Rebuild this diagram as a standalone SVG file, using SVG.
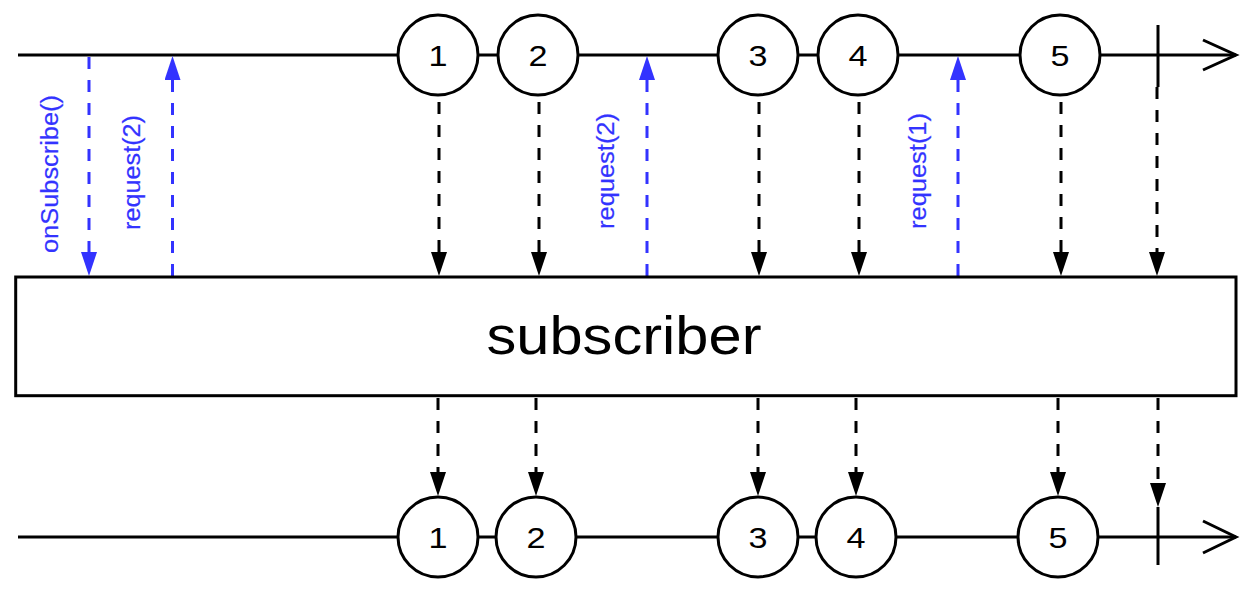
<svg xmlns="http://www.w3.org/2000/svg" width="1251" height="591" viewBox="0 0 1251 591">
  <style>
    .line { stroke: #000; stroke-width: 3; fill: none; }
    .chev { stroke: #000; stroke-width: 3; fill: none; stroke-linejoin: miter; }
    .marble { stroke: #000; stroke-width: 3; fill: #fff; }
    .digit { font-family: "Liberation Sans", Arial, sans-serif; font-size: 30px; fill: #000; text-anchor: middle; }
    .blk { stroke: #000; stroke-width: 3; fill: none; stroke-dasharray: 12 11; }
    .blu { stroke: #3333ff; stroke-width: 3; fill: none; stroke-dasharray: 12 11; }
    .lbl { font-family: "Liberation Sans", Arial, sans-serif; font-size: 23px; fill: #3333ff; stroke: #3333ff; stroke-width: 0.2; text-anchor: middle; }
    .title { font-family: "Liberation Sans", Arial, sans-serif; font-size: 54px; fill: #000; text-anchor: middle; }
  </style>
  <defs>
    <marker id="hb" viewBox="0 0 24 16" refX="0" refY="8" markerWidth="24" markerHeight="16" markerUnits="userSpaceOnUse" orient="auto">
      <path d="M0,0 L24,8 L0,16 Z" fill="#000"/>
    </marker>
    <marker id="hu" viewBox="0 0 24 16" refX="0" refY="8" markerWidth="24" markerHeight="16" markerUnits="userSpaceOnUse" orient="auto">
      <path d="M0,0 L24,8 L0,16 Z" fill="#3333ff"/>
    </marker>
  </defs>
  <rect width="1251" height="591" fill="#fff"/>

  <g id="source-timeline">
    <line class="line" x1="18" y1="55" x2="1236" y2="55"/>
    <polyline class="chev" points="1203,40 1236,55 1203,70"/>
    <line class="line" x1="1158" y1="25" x2="1158" y2="87"/>
  </g>
  <g id="output-timeline">
    <line class="line" x1="18" y1="537" x2="1236" y2="537"/>
    <polyline class="chev" points="1203,521 1236,537 1203,553"/>
    <line class="line" x1="1158" y1="507" x2="1158" y2="565"/>
  </g>

  <g id="connectors">
    <line class="blu" x1="89" y1="57" x2="89" y2="252" marker-end="url(#hu)"/>
    <line class="blu" x1="172.5" y1="276" x2="172.5" y2="80" marker-end="url(#hu)"/>
    <line class="blu" x1="647" y1="276" x2="647" y2="80" marker-end="url(#hu)"/>
    <line class="blu" x1="958" y1="276" x2="958" y2="80" marker-end="url(#hu)"/>
    <line class="blk" x1="439" y1="102" x2="439" y2="252" marker-end="url(#hb)"/>
    <line class="blk" x1="539" y1="102" x2="539" y2="252" marker-end="url(#hb)"/>
    <line class="blk" x1="759" y1="102" x2="759" y2="252" marker-end="url(#hb)"/>
    <line class="blk" x1="859" y1="102" x2="859" y2="252" marker-end="url(#hb)"/>
    <line class="blk" x1="1061" y1="102" x2="1061" y2="252" marker-end="url(#hb)"/>
    <line class="blk" x1="1157" y1="87" x2="1157" y2="252" marker-end="url(#hb)"/>
    <line class="blk" x1="438" y1="398" x2="438" y2="472" marker-end="url(#hb)"/>
    <line class="blk" x1="536" y1="398" x2="536" y2="472" marker-end="url(#hb)"/>
    <line class="blk" x1="758" y1="398" x2="758" y2="472" marker-end="url(#hb)"/>
    <line class="blk" x1="856" y1="398" x2="856" y2="472" marker-end="url(#hb)"/>
    <line class="blk" x1="1058" y1="398" x2="1058" y2="472" marker-end="url(#hb)"/>
    <line class="blk" x1="1158" y1="398" x2="1158" y2="483" marker-end="url(#hb)"/>
    <text class="lbl" transform="translate(58,174) rotate(-90)" textLength="158" lengthAdjust="spacingAndGlyphs">onSubscribe()</text>
    <text class="lbl" transform="translate(140,172.5) rotate(-90)" textLength="115" lengthAdjust="spacingAndGlyphs">request(2)</text>
    <text class="lbl" transform="translate(614,171) rotate(-90)" textLength="116" lengthAdjust="spacingAndGlyphs">request(2)</text>
    <text class="lbl" transform="translate(925.5,171) rotate(-90)" textLength="116" lengthAdjust="spacingAndGlyphs">request(1)</text>
  </g>

  <g id="subscriber">
    <rect x="15.7" y="277" width="1220.3" height="118.7" fill="#fff" stroke="#000" stroke-width="3"/>
    <text class="title" x="624" y="354" textLength="275" lengthAdjust="spacingAndGlyphs">subscriber</text>
  </g>

  <g id="in-1"><circle class="marble" cx="438" cy="55" r="40"/><text class="digit" x="438" y="66" textLength="19" lengthAdjust="spacingAndGlyphs">1</text></g>
  <g id="in-2"><circle class="marble" cx="538" cy="55" r="40"/><text class="digit" x="538" y="66" textLength="19" lengthAdjust="spacingAndGlyphs">2</text></g>
  <g id="in-3"><circle class="marble" cx="758" cy="55" r="40"/><text class="digit" x="758" y="66" textLength="19" lengthAdjust="spacingAndGlyphs">3</text></g>
  <g id="in-4"><circle class="marble" cx="858" cy="55" r="40"/><text class="digit" x="858" y="66" textLength="19" lengthAdjust="spacingAndGlyphs">4</text></g>
  <g id="in-5"><circle class="marble" cx="1060" cy="55" r="40"/><text class="digit" x="1060" y="66" textLength="19" lengthAdjust="spacingAndGlyphs">5</text></g>

  <g id="out-1"><circle class="marble" cx="438" cy="537" r="40"/><text class="digit" x="438" y="547.5" textLength="19" lengthAdjust="spacingAndGlyphs">1</text></g>
  <g id="out-2"><circle class="marble" cx="536" cy="537" r="40"/><text class="digit" x="536" y="547.5" textLength="19" lengthAdjust="spacingAndGlyphs">2</text></g>
  <g id="out-3"><circle class="marble" cx="758" cy="537" r="40"/><text class="digit" x="758" y="547.5" textLength="19" lengthAdjust="spacingAndGlyphs">3</text></g>
  <g id="out-4"><circle class="marble" cx="856" cy="537" r="40"/><text class="digit" x="856" y="547.5" textLength="19" lengthAdjust="spacingAndGlyphs">4</text></g>
  <g id="out-5"><circle class="marble" cx="1058" cy="537" r="40"/><text class="digit" x="1058" y="547.5" textLength="19" lengthAdjust="spacingAndGlyphs">5</text></g>
</svg>
